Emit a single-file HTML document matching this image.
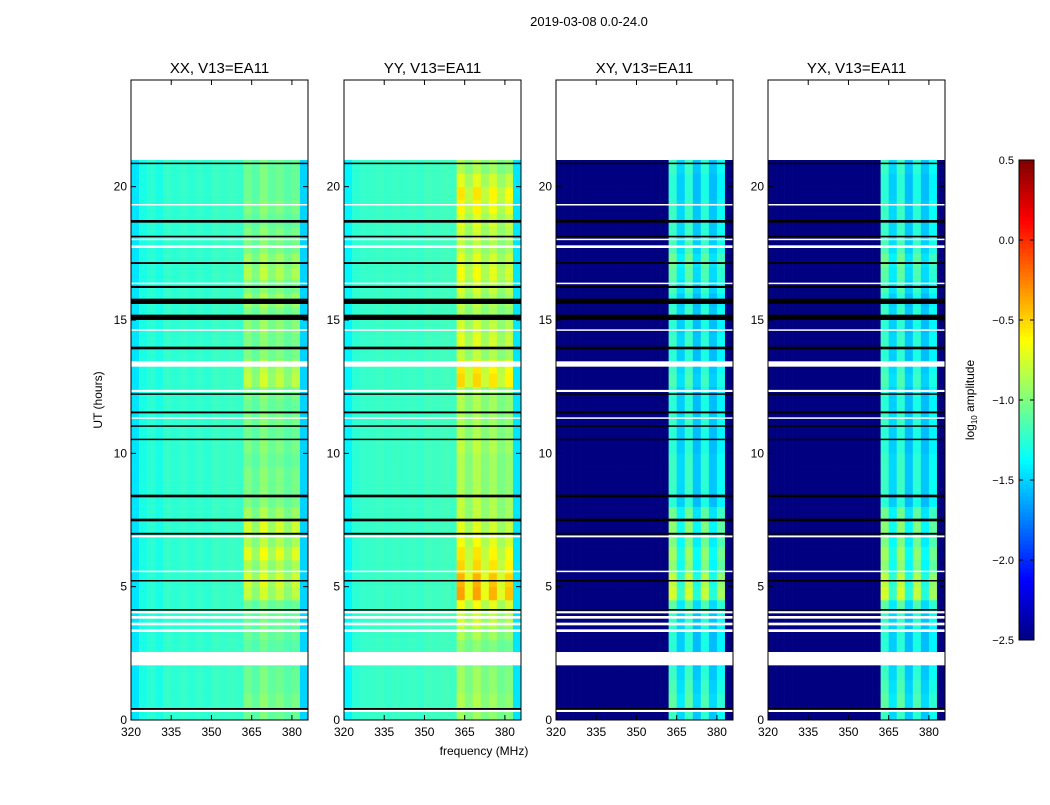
<!DOCTYPE html>
<html><head><meta charset="utf-8"><style>
body{margin:0;background:#fff;font-family:"Liberation Sans",sans-serif}
svg text{font-family:"Liberation Sans",sans-serif}
</style></head><body>
<svg id="chart" width="1050" height="800" xmlns="http://www.w3.org/2000/svg">
<rect width="1050" height="800" fill="#fff"/>
<text x="589" y="26" font-size="13" text-anchor="middle">2019-03-08 0.0-24.0</text>
<text x="484" y="755" font-size="12" text-anchor="middle">frequency (MHz)</text>
<text x="102" y="400" font-size="12" text-anchor="middle" transform="rotate(-90 102 400)">UT (hours)</text>
<text x="974" y="400" font-size="12" text-anchor="middle" transform="rotate(-90 974 400)">log<tspan font-size="8" dy="3">10</tspan><tspan dy="-3"> amplitude</tspan></text>
<g id="panels"></g>
<g id="cbar"></g>
</svg>
<script>
const panelTitles=["XX, V13=EA11","YY, V13=EA11","XY, V13=EA11","YX, V13=EA11"];
const freqBins=[320,323,326,329,332,335,338,341,344,347,350,353,356,359,362,365,368,371,374,377,380,383];
const xxSpec=[-1.45,-1.3,-1.25,-1.3,-1.22,-1.25,-1.22,-1.25,-1.22,-1.25,-1.2,-1.22,-1.2,-1.22,-1.1,-1.15,-1.05,-1.12,-1.1,-1.15,-1.12,-1.5];
const yySpec=[-1.4,-1.25,-1.22,-1.22,-1.2,-1.22,-1.2,-1.22,-1.2,-1.22,-1.18,-1.2,-1.18,-1.2,-0.95,-1.05,-0.95,-1.05,-1.0,-1.08,-1.05,-1.45];
const xySpec=[-2.5,-2.5,-2.5,-2.5,-2.5,-2.5,-2.5,-2.5,-2.5,-2.5,-2.5,-2.5,-2.5,-2.5,-1.3,-1.55,-1.3,-1.6,-1.35,-1.6,-1.45,-2.5];
const yxSpec=[-2.5,-2.5,-2.5,-2.5,-2.5,-2.5,-2.5,-2.5,-2.5,-2.5,-2.5,-2.5,-2.5,-2.5,-1.3,-1.55,-1.3,-1.6,-1.35,-1.6,-1.45,-2.5];
const xxBoost=[0.05,0.1,0.05,0.05,0.0,0.0,0.05,0.05,0.05,0.3,0.35,0.25,0.4,0.25,0.35,0.2,0.1,0.1,0.1,0.05,0.1,0.05,0.1,0.05,0.1,0.3,0.25,0.1,0.1,0.15,0.1,0.2,0.1,0.25,0.2,0.1,0.1,0.05,0.1,0.05,0.05,0.05];
const yyBoost=[0.05,0.1,0.05,0.05,0.0,0.0,0.1,0.2,0.3,0.6,0.55,0.45,0.4,0.3,0.25,0.15,0.15,0.1,0.1,0.1,0.15,0.1,0.1,0.1,0.1,0.45,0.4,0.15,0.25,0.2,0.1,0.15,0.2,0.3,0.25,0.15,0.2,0.25,0.35,0.4,0.25,0.1];
const xyBoost=[0.1,0.2,0.15,0.1,0.05,0.05,0.05,0.1,0.2,0.55,0.5,0.35,0.4,0.3,0.35,0.25,0.05,0.1,0.1,0.1,0.05,0.05,0.1,0.05,0.05,0.15,0.1,0.05,0.1,0.05,0.1,0.05,0.15,0.2,0.25,0.15,0.1,0.1,0.1,0.05,0.05,0.1];
const whiteBands=[[0.3,0.45],[2.05,2.55],[3.3,3.4],[3.55,3.65],[3.8,3.9],[4.0,4.08],[5.55,5.6],[6.85,6.92],[11.3,11.35],[12.3,12.38],[13.25,13.45],[14.6,14.65],[16.35,16.4],[17.7,17.8],[18.0,18.05],[19.3,19.35]];
const blackLines=[[0.38,0.45],[4.1,4.16],[5.2,5.25],[6.95,7.02],[7.45,7.55],[8.35,8.45],[10.5,10.55],[11.0,11.05],[11.5,11.57],[12.2,12.25],[13.9,14.0],[15.0,15.2],[15.6,15.8],[16.2,16.28],[17.1,17.17],[18.1,18.16],[18.65,18.75],[20.85,20.9]];
const yTicks=[0,5,10,15,20];
const xTicks=[320,335,350,365,380];
const cbTicks=[-2.5,-2.0,-1.5,-1.0,-0.5,0.0,0.5];
const specs=[xxSpec,yySpec,xySpec,yxSpec];
const boosts=[xxBoost,yyBoost,xyBoost,xyBoost];

const NS="http://www.w3.org/2000/svg";
const panelLeft=[131,344,556,768], PW=177, PT=80, PB=720;
const fMin=320,fMax=386,tMax=24;
const yS=h=>PB-(h/tMax)*(PB-PT);
function jet(v){let t=(v+2.5)/3;t=Math.max(0,Math.min(1,t));
 const r=Math.max(0,Math.min(1,1.5-Math.abs(4*t-3))),g=Math.max(0,Math.min(1,1.5-Math.abs(4*t-2))),b=Math.max(0,Math.min(1,1.5-Math.abs(4*t-1)));
 return `rgb(${Math.round(r*255)},${Math.round(g*255)},${Math.round(b*255)})`;}
function mk(tag,attrs,parent){const e=document.createElementNS(NS,tag);for(const k in attrs)e.setAttribute(k,attrs[k]);parent.appendChild(e);return e;}
const root=document.getElementById('panels');
panelTitles.forEach((title,p)=>{
 const L=panelLeft[p];const xS=f=>L+(f-fMin)/(fMax-fMin)*PW;
 const g=mk('g',{},root);
 
 
 const hm=mk('g',{},g);
 
 
 const spec=specs[p],boost=boosts[p];
 for(let ti=0;ti<boost.length;ti++){
  const y0=yS((ti+1)*0.5),y1=yS(ti*0.5);
  for(let fi=0;fi<freqBins.length;fi++){
   const inBand=fi>=14&&fi<=20;
   const v=spec[fi]+(inBand?boost[ti]*(fi%2===0?1:0.6):0);
   const c=mk('rect',{x:xS(freqBins[fi]),y:y0,width:xS(freqBins[fi]+3)-xS(freqBins[fi])+0.3,height:y1-y0+0.3,fill:jet(v)},hm);
   
   
  }
 }
 whiteBands.forEach(b=>{const r=mk('rect',{x:L,y:yS(b[1]),width:PW,height:Math.max(1.5,yS(b[0])-yS(b[1])),fill:'#fff'},g);
  
  });
 blackLines.forEach(b=>{const r=mk('rect',{x:L,y:yS(b[1]),width:PW,height:Math.max(1.5,yS(b[0])-yS(b[1])),fill:'#000'},g);
  
  });
 const fr=mk('rect',{x:L,y:PT,width:PW,height:PB-PT,fill:'none',stroke:'#000','stroke-width':1},g);
 
 
 const tt=mk('text',{x:L+PW/2,y:73,'font-size':15,'text-anchor':'middle'},g);tt.textContent=title;
 
 
 yTicks.forEach(h=>{const y=yS(h);
  mk('line',{x1:L,x2:L+5,y1:y,y2:y,stroke:'#000'},g);mk('line',{x1:L+PW-5,x2:L+PW,y1:y,y2:y,stroke:'#000'},g);
  const t=mk('text',{x:L-4,y:y+4,'font-size':12,'text-anchor':'end'},g);t.textContent=h;
  
  });
 xTicks.forEach(f=>{const x=xS(f);
  mk('line',{x1:x,x2:x,y1:PB,y2:PB-5,stroke:'#000'},g);mk('line',{x1:x,x2:x,y1:PT,y2:PT+5,stroke:'#000'},g);
  const t=mk('text',{x:x,y:PB+16,'font-size':12,'text-anchor':'middle'},g);t.textContent=f;
  
  });
});
const cb=document.getElementById('cbar');


const CT=160,CB=640,CL=1019,CW=15;
const cy=v=>CB-(v+2.5)/3*(CB-CT);
for(let i=0;i<120;i++){const v0=-2.5+i*3/120;mk('rect',{x:CL,y:cy(v0+3/120),width:CW,height:(CB-CT)/120+0.5,fill:jet(v0+1.5/120)},cb);}
mk('rect',{x:CL,y:CT,width:CW,height:CB-CT,fill:'none',stroke:'#000'},cb);
cbTicks.forEach(v=>{const y=cy(v);mk('line',{x1:CL,x2:CL+4,y1:y,y2:y,stroke:'#000'},cb);mk('line',{x1:CL+CW-4,x2:CL+CW,y1:y,y2:y,stroke:'#000'},cb);
 const t=mk('text',{x:CL-5,y:y+4,'font-size':11,'text-anchor':'end'},cb);t.textContent=(v<0?'\u2212':'')+Math.abs(v).toFixed(1);
 
 });
</script>
</body></html>
